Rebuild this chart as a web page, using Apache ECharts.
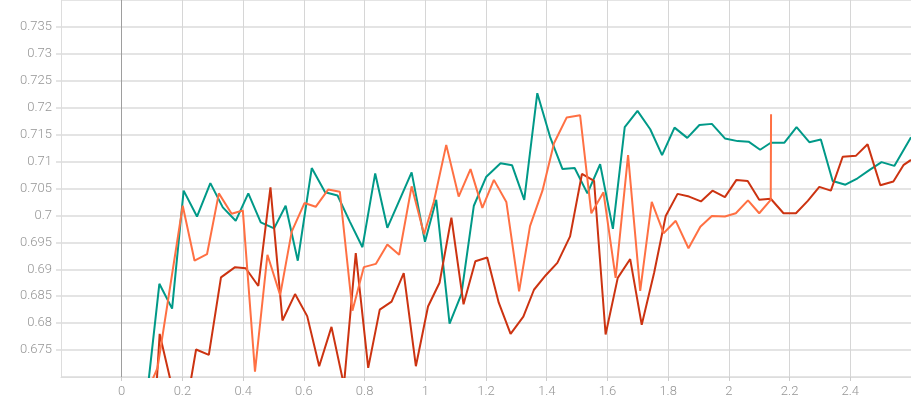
<!DOCTYPE html>
<html>
<head>
<meta charset="utf-8">
<script src="https://cdn.jsdelivr.net/npm/echarts@6/dist/echarts.min.js"></script>
<style>
  html, body { margin: 0; padding: 0; background: #fff; }
  #chart { width: 911px; height: 400px; }
</style>
</head>
<body>
<div id="chart"></div>
<script>
// x 轴范围和刻度
var xMin = -0.2, xMax = 2.6, xStep = 0.2;
var yMin = 0.67, yMax = 0.74, yStep = 0.005;

// 三条曲线, [x, y]
var tealRun = [
  [0.083, 0.6665], [0.124, 0.6873], [0.166, 0.6827], [0.204, 0.7046], [0.248, 0.6998],
  [0.292, 0.7060], [0.333, 0.7015], [0.3755, 0.6990], [0.417, 0.7041], [0.458, 0.6987],
  [0.502, 0.6976], [0.540, 0.7018], [0.580, 0.6916], [0.626, 0.7088], [0.670, 0.7043],
  [0.711, 0.7037], [0.751, 0.6989], [0.793, 0.6941], [0.835, 0.7078], [0.875, 0.6977],
  [0.914, 0.7027], [0.955, 0.7080], [0.999, 0.6951], [1.036, 0.7029], [1.080, 0.6799],
  [1.119, 0.6854], [1.160, 0.7018], [1.201, 0.7072], [1.248, 0.7097], [1.286, 0.7093],
  [1.326, 0.7029], [1.369, 0.7227], [1.411, 0.7146], [1.452, 0.7086], [1.492, 0.7088],
  [1.534, 0.7041], [1.576, 0.7095], [1.618, 0.6975], [1.657, 0.7164], [1.699, 0.7194],
  [1.741, 0.7160], [1.780, 0.7112], [1.821, 0.7163], [1.863, 0.7144], [1.903, 0.7168],
  [1.944, 0.7170], [1.987, 0.7143], [2.029, 0.7138], [2.065, 0.7137], [2.103, 0.7122],
  [2.138, 0.7135], [2.183, 0.7135], [2.223, 0.7164], [2.265, 0.7136], [2.303, 0.7141],
  [2.342, 0.7064], [2.384, 0.7057], [2.424, 0.7069], [2.465, 0.7085], [2.503, 0.7099],
  [2.545, 0.7092], [2.600, 0.7145]
];
var orangeRun = [
  [0.078, 0.6665], [0.118, 0.6717], [0.201, 0.7018], [0.240, 0.6916], [0.281, 0.6928],
  [0.320, 0.7041], [0.362, 0.7003], [0.399, 0.7009], [0.439, 0.6710], [0.480, 0.6927],
  [0.522, 0.6852], [0.560, 0.6970], [0.602, 0.7023], [0.639, 0.7016], [0.680, 0.7048],
  [0.7185, 0.7044], [0.760, 0.6823], [0.7975, 0.6904], [0.837, 0.6910], [0.875, 0.6946],
  [0.914, 0.6927], [0.955, 0.7054], [0.996, 0.6965], [1.028, 0.7025], [1.069, 0.7131],
  [1.110, 0.7035], [1.149, 0.7086], [1.188, 0.7014], [1.226, 0.7066], [1.267, 0.7025],
  [1.309, 0.6859], [1.345, 0.6980], [1.386, 0.7046], [1.424, 0.7134], [1.466, 0.7182],
  [1.510, 0.7186], [1.547, 0.7004], [1.587, 0.7043], [1.627, 0.6884], [1.668, 0.7112],
  [1.708, 0.6860], [1.746, 0.7025], [1.785, 0.6967], [1.825, 0.6990], [1.867, 0.6939],
  [1.906, 0.6979], [1.944, 0.6999], [1.987, 0.6998], [2.023, 0.7004], [2.063, 0.7028],
  [2.100, 0.7004], [2.138, 0.7029], [2.139, 0.7188]
];
var redRun = [
  [0.085, 0.6410], [0.125, 0.6780], [0.166, 0.6681], [0.204, 0.6616], [0.245, 0.6751],
  [0.287, 0.6741], [0.327, 0.6885], [0.3735, 0.6904], [0.4085, 0.6902], [0.450, 0.6869],
  [0.490, 0.7052], [0.5295, 0.6805], [0.571, 0.6854], [0.611, 0.6813], [0.6505, 0.6720],
  [0.691, 0.6793], [0.732, 0.6685], [0.771, 0.6930], [0.812, 0.6717], [0.850, 0.6825],
  [0.889, 0.6840], [0.929, 0.6893], [0.969, 0.6720], [1.009, 0.6831], [1.047, 0.6875],
  [1.086, 0.6996], [1.126, 0.6835], [1.165, 0.6915], [1.204, 0.6922], [1.242, 0.6838],
  [1.281, 0.6780], [1.323, 0.6812], [1.358, 0.6862], [1.397, 0.6889], [1.435, 0.6912],
  [1.477, 0.6961], [1.516, 0.7077], [1.556, 0.7064], [1.594, 0.6779], [1.634, 0.6884],
  [1.675, 0.6919], [1.713, 0.6797], [1.754, 0.6894], [1.792, 0.6999], [1.831, 0.7040],
  [1.869, 0.7035], [1.908, 0.7026], [1.946, 0.7046], [1.987, 0.7034], [2.025, 0.7066],
  [2.062, 0.7064], [2.100, 0.7029], [2.138, 0.7031], [2.180, 0.7004], [2.221, 0.7004],
  [2.260, 0.7027], [2.298, 0.7053], [2.336, 0.7046], [2.375, 0.7109], [2.419, 0.7111],
  [2.457, 0.7132], [2.499, 0.7056], [2.542, 0.7063], [2.576, 0.7094], [2.600, 0.7103]
];

var chartDom = document.getElementById('chart');
var myChart = echarts.init(chartDom, null, { renderer: 'canvas' });

var textStyle = { color: '#959595', fontSize: 13, fontFamily: 'Roboto', fontWeight: 300 };

function lineSeries(name, color, data) {
  return {
    name: name,
    type: 'line',
    data: data,
    showSymbol: false,
    symbol: 'none',
    clip: true,
    lineStyle: { color: color, width: 2 },
    itemStyle: { color: color },
    z: 3
  };
}

var series = [
  lineSeries('teal', '#009988', tealRun),
  lineSeries('red', '#cc3311', redRun),
  lineSeries('orange', '#ff7043', orangeRun)
];
// x = 0 处的竖线
series[0].markLine = {
  silent: true,
  symbol: 'none',
  label: { show: false },
  lineStyle: { color: '#9e9e9e', width: 1, type: 'solid' },
  data: [{ xAxis: 0 }]
};

var option = {
  animation: false,
  backgroundColor: '#ffffff',
  grid: { left: 61, right: 0, top: 0, bottom: 23, containLabel: false },
  xAxis: {
    type: 'value',
    min: xMin,
    max: xMax,
    interval: xStep,
    axisLine: { show: true, onZero: false, lineStyle: { color: '#dddddd', width: 1 } },
    axisTick: { show: true, length: 4, lineStyle: { color: '#cccccc' } },
    axisLabel: Object.assign({ margin: 8, showMinLabel: false, showMaxLabel: false }, textStyle),
    splitLine: { show: true, lineStyle: { color: '#d6d6d6', width: 1 } }
  },
  yAxis: {
    type: 'value',
    min: yMin,
    max: yMax,
    interval: yStep,
    axisLine: { show: true, onZero: false, lineStyle: { color: '#dddddd', width: 1 } },
    axisTick: { show: true, length: 5, lineStyle: { color: '#e4e4e4', width: 2 } },
    axisLabel: Object.assign({ margin: 9, showMinLabel: false, showMaxLabel: false }, textStyle),
    splitLine: { show: true, lineStyle: { color: '#e4e4e4', width: 2 } }
  },
  series: series
};

option && myChart.setOption(option);
</script>
</body>
</html>
